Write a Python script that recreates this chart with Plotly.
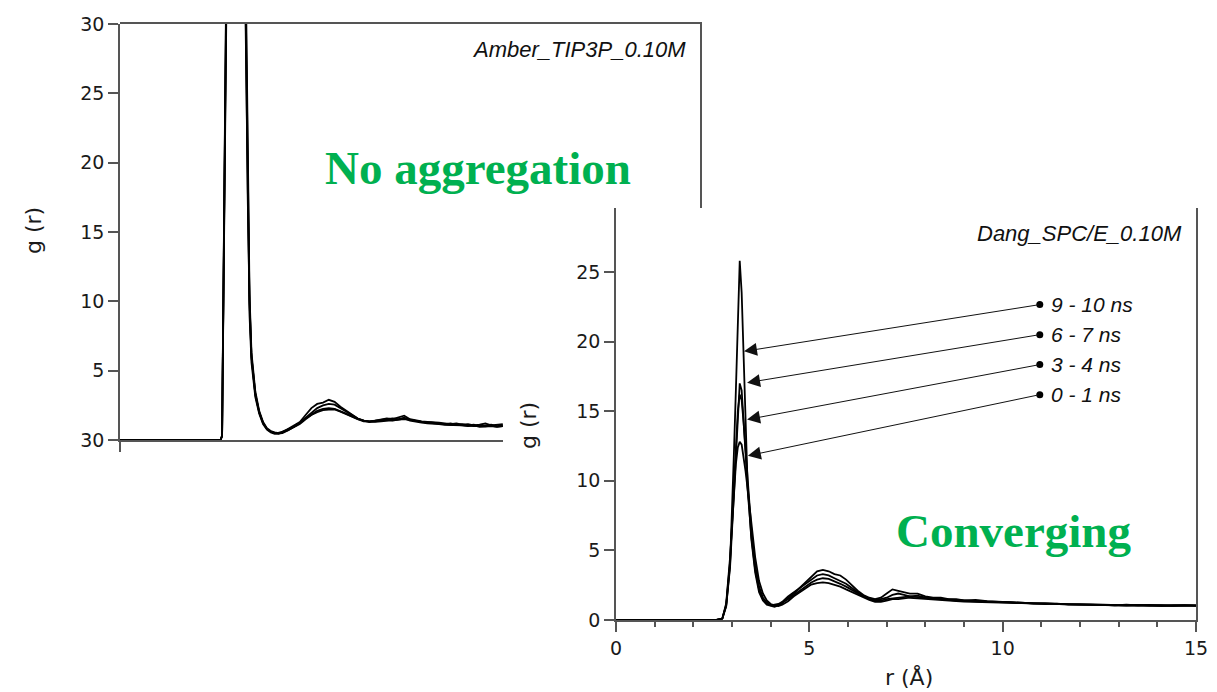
import plotly.graph_objects as go

W, H = 1217, 692

# ---------------- Left panel (Amber_TIP3P_0.10M) ----------------
R_LEFT = [0, 2.6, 2.64, 2.75, 2.9, 3.05, 3.2, 3.25, 3.3, 3.35, 3.4, 3.5, 3.6, 3.7, 3.8, 3.9,
          4.0, 4.1, 4.2, 4.35, 4.5, 4.65, 4.8, 4.95, 5.1, 5.25, 5.4, 5.55, 5.7, 5.85,
          6.0, 6.15, 6.3, 6.45, 6.6, 6.75, 6.9, 7.05, 7.2, 7.35, 7.5, 7.65, 7.8, 7.95,
          8.1, 8.25, 8.4, 8.55, 8.7, 8.85, 9.0, 9.15, 9.3, 9.45, 9.6, 9.75, 9.9]
G_LEFT_1 = [0, 0, 0.3, 33, 72, 76, 44, 31, 18, 10, 6, 3.3, 2.0, 1.2, 0.8, 0.6,
            0.5, 0.45, 0.55, 0.8, 1.0, 1.3, 1.8, 2.3, 2.6, 2.7, 2.9, 2.75, 2.4, 2.1,
            1.8, 1.55, 1.4, 1.35, 1.4, 1.5, 1.55, 1.5, 1.6, 1.75, 1.5, 1.4, 1.35, 1.3,
            1.3, 1.25, 1.2, 1.15, 1.2, 1.1, 1.15, 1.05, 1.1, 1.2, 1.05, 1.1, 1.15]
G_LEFT_2 = [0, 0, 0.3, 32, 68, 74, 46, 33, 19, 10.5, 6.3, 3.5, 2.1, 1.3, 0.85, 0.65,
            0.55, 0.5, 0.6, 0.75, 0.95, 1.25, 1.6, 2.0, 2.3, 2.5, 2.6, 2.55, 2.3, 2.0,
            1.75, 1.55, 1.4, 1.35, 1.4, 1.45, 1.5, 1.55, 1.5, 1.6, 1.45, 1.35, 1.3, 1.3,
            1.25, 1.2, 1.15, 1.2, 1.1, 1.15, 1.05, 1.1, 1.0, 1.05, 1.1, 1.0, 1.05]
G_LEFT_3 = [0, 0, 0.3, 34, 71, 73, 40, 29, 16, 9, 5.6, 3.1, 1.9, 1.15, 0.75, 0.55,
            0.45, 0.45, 0.5, 0.7, 0.95, 1.2, 1.55, 1.85, 2.1, 2.25, 2.3, 2.25, 2.1, 1.9,
            1.7, 1.5, 1.4, 1.3, 1.35, 1.4, 1.45, 1.4, 1.5, 1.55, 1.4, 1.3, 1.25, 1.2,
            1.2, 1.15, 1.1, 1.1, 1.05, 1.05, 1.0, 1.05, 0.95, 1.0, 1.0, 0.95, 1.0]
G_LEFT_4 = [0, 0, 0.3, 33, 69, 75, 43, 31, 17.5, 9.8, 6, 3.3, 2.0, 1.25, 0.8, 0.6,
            0.5, 0.5, 0.55, 0.7, 0.9, 1.15, 1.5, 1.8, 2.0, 2.15, 2.2, 2.2, 2.05, 1.85,
            1.65, 1.5, 1.35, 1.3, 1.3, 1.35, 1.4, 1.4, 1.45, 1.5, 1.45, 1.35, 1.3, 1.25,
            1.2, 1.2, 1.15, 1.1, 1.1, 1.05, 1.05, 1.0, 1.0, 0.98, 1.02, 0.97, 1.0]
LEFT_SERIES = [G_LEFT_1, G_LEFT_2, G_LEFT_3, G_LEFT_4]
LEFT_YTICK_VALS = [0, 5, 10, 15, 20, 25, 30]
LEFT_YTICK_TEXT = ["30", "5", "10", "15", "20", "25", "30"]

# ---------------- Right panel (Dang_SPC/E_0.10M) ----------------
R_RIGHT = [0, 2.6, 2.75, 2.85, 2.95, 3.0, 3.05, 3.1, 3.15, 3.2, 3.25, 3.3, 3.35, 3.4, 3.5,
           3.6, 3.7, 3.8, 3.9, 4.0, 4.1, 4.2, 4.3, 4.45, 4.6, 4.75, 4.9, 5.05, 5.2,
           5.35, 5.5, 5.65, 5.8, 5.95, 6.1, 6.25, 6.4, 6.55, 6.7, 6.85, 7.0, 7.15,
           7.3, 7.45, 7.6, 7.8, 8.0, 8.2, 8.4, 8.6, 8.8, 9.0, 9.3, 9.6, 9.9, 10.2,
           10.5, 10.8, 11.1, 11.4, 11.7, 12.0, 12.3, 12.6, 12.9, 13.2, 13.5, 13.8,
           14.1, 14.4, 14.7, 15.0]
G_9_10 = [0, 0, 0.1, 1.0, 4.0, 7.5, 12, 16.5, 21, 25.8, 23.5, 18.5, 13.5, 10, 5.8,
          3.4, 2.0, 1.4, 1.1, 1.0, 0.95, 1.05, 1.2, 1.6, 1.9, 2.3, 2.7, 3.1, 3.5,
          3.6, 3.5, 3.3, 3.2, 2.9, 2.5, 2.1, 1.8, 1.6, 1.5, 1.6, 1.9, 2.2,
          2.1, 2.0, 1.9, 1.9, 1.7, 1.6, 1.6, 1.5, 1.5, 1.4, 1.45, 1.35, 1.3, 1.3,
          1.25, 1.2, 1.2, 1.15, 1.15, 1.1, 1.12, 1.08, 1.05, 1.1, 1.05, 1.08,
          1.02, 1.06, 1.03, 1.05]
G_6_7 = [0, 0, 0.1, 1.0, 3.8, 6.5, 9.5, 12.5, 15.2, 17.0, 16.5, 14.5, 12, 9.5, 6,
         3.6, 2.2, 1.5, 1.2, 1.05, 1.1, 1.15, 1.3, 1.7, 2.0, 2.3, 2.6, 2.9, 3.2,
         3.3, 3.2, 3.0, 2.8, 2.6, 2.3, 2.0, 1.7, 1.5, 1.4, 1.5, 1.6, 1.8,
         1.9, 1.8, 1.7, 1.75, 1.6, 1.55, 1.5, 1.5, 1.45, 1.4, 1.35, 1.35, 1.3, 1.28,
         1.22, 1.2, 1.15, 1.18, 1.12, 1.12, 1.08, 1.1, 1.06, 1.05, 1.08, 1.04,
         1.06, 1.02, 1.05, 1.02]
G_3_4 = [0, 0, 0.1, 1.1, 4.2, 7.0, 10, 12.8, 15.0, 16.2, 15.8, 14.2, 12.3, 10.2, 6.5,
         3.9, 2.4, 1.6, 1.25, 1.1, 1.0, 1.1, 1.25, 1.5, 1.8, 2.1, 2.4, 2.7, 2.9,
         3.0, 2.95, 2.8, 2.6, 2.4, 2.15, 1.9, 1.7, 1.5, 1.45, 1.4, 1.5, 1.55,
         1.6, 1.65, 1.7, 1.65, 1.6, 1.5, 1.45, 1.4, 1.4, 1.38, 1.32, 1.3, 1.28, 1.25,
         1.2, 1.18, 1.2, 1.15, 1.1, 1.12, 1.1, 1.06, 1.08, 1.04, 1.06, 1.05,
         1.03, 1.05, 1.02, 1.04]
G_0_1 = [0, 0, 0.1, 1.2, 4.5, 7.0, 9.3, 11.2, 12.4, 12.8, 12.6, 11.8, 10.7, 9.5, 7.0,
         4.5, 2.8, 1.9, 1.4, 1.15, 1.05, 1.0, 1.1, 1.35, 1.7, 2.0, 2.3, 2.55, 2.65,
         2.7, 2.65, 2.55, 2.4, 2.2, 2.0, 1.8, 1.6, 1.45, 1.3, 1.3, 1.4, 1.5,
         1.5, 1.55, 1.6, 1.55, 1.5, 1.45, 1.4, 1.38, 1.35, 1.32, 1.3, 1.28, 1.25, 1.22,
         1.2, 1.16, 1.15, 1.12, 1.12, 1.1, 1.08, 1.08, 1.05, 1.06, 1.04, 1.03,
         1.05, 1.02, 1.04, 1.03]
RIGHT_SERIES = [G_9_10, G_6_7, G_3_4, G_0_1]
RIGHT_LABELS = ["9 - 10 ns", "6 - 7 ns", "3 - 4 ns", "0 - 1 ns"]
LABEL_DOT_R = [10.96, 10.96, 10.96, 10.96]
LABEL_DOT_G = [22.66, 20.5, 18.35, 16.19]
ARROW_TIP_R = [3.31, 3.39, 3.39, 3.41]
ARROW_TIP_G = [19.3, 17.05, 14.4, 11.8]


def px(x):
    return x / W


def py(y):
    return 1 - y / H


SANS = "DejaVu Sans, Verdana, sans-serif"
ITAL = "Liberation Sans, Arial, sans-serif"
TICK_FONT = dict(family=SANS, size=19, color="#1a1a1a")
AX_COL = "#555555"
GREEN = "#00B050"

# pixel frame of the two panels
L_X0, L_X1, L_XCUT = 120, 700, 503      # left panel: full width, visible bottom-axis end
L_Y0, L_Y1 = 440, 24
L_YCUT = 208                             # where the right panel hides the left frame
R_X0, R_X1 = 616, 1196
R_Y0, R_Y1 = 620, 208
X_MAX = 15.0
left_visible_max = X_MAX * (L_XCUT - L_X0) / (L_X1 - L_X0)

fig = go.Figure()

for g in LEFT_SERIES:
    fig.add_trace(go.Scatter(x=R_LEFT, y=g, mode="lines", xaxis="x", yaxis="y",
                             line=dict(color="black", width=1.8), showlegend=False,
                             hoverinfo="skip"))
# empty trace so the frame axes of the left panel form their own subplot
fig.add_trace(go.Scatter(x=[None], y=[None], xaxis="x2", yaxis="y2", showlegend=False,
                         hoverinfo="skip"))
for g in RIGHT_SERIES:
    fig.add_trace(go.Scatter(x=R_RIGHT, y=g, mode="lines", xaxis="x3", yaxis="y3",
                             line=dict(color="black", width=1.8), showlegend=False,
                             hoverinfo="skip"))
fig.add_trace(go.Scatter(x=LABEL_DOT_R, y=LABEL_DOT_G, mode="markers", xaxis="x3", yaxis="y3",
                         marker=dict(color="black", size=7), showlegend=False, hoverinfo="skip"))

annotations = []
for i in range(len(RIGHT_LABELS)):
    annotations.append(dict(
        xref="x3", yref="y3", axref="x3", ayref="y3",
        x=ARROW_TIP_R[i], y=ARROW_TIP_G[i], ax=LABEL_DOT_R[i], ay=LABEL_DOT_G[i],
        text="", showarrow=True, arrowhead=2, arrowsize=2.6, arrowwidth=1,
        arrowcolor="#111111", standoff=0, startstandoff=0))
    annotations.append(dict(
        xref="x3", yref="y3", x=LABEL_DOT_R[i], y=LABEL_DOT_G[i], xshift=9,
        text="<i>" + RIGHT_LABELS[i] + "</i>", showarrow=False,
        xanchor="left", yanchor="middle",
        font=dict(family=ITAL, size=21, color="#111111")))

annotations += [
    dict(xref="paper", yref="paper", x=px(688), y=py(50), text="<i>Amber_TIP3P_0.10M</i>",
         showarrow=False, xanchor="right", yanchor="middle",
         font=dict(family=ITAL, size=22, color="#111111")),
    dict(xref="paper", yref="paper", x=px(1184), y=py(233), text="<i>Dang_SPC/E_0.10M</i>",
         showarrow=False, xanchor="right", yanchor="middle",
         font=dict(family=ITAL, size=22, color="#111111")),
    dict(xref="paper", yref="paper", x=px(478), y=py(168), text="<b>No aggregation</b>",
         showarrow=False, xanchor="center", yanchor="middle",
         font=dict(family="Liberation Serif, Times New Roman, serif", size=47, color=GREEN)),
    dict(xref="paper", yref="paper", x=px(1014), y=py(531), text="<b>Converging</b>",
         showarrow=False, xanchor="center", yanchor="middle",
         font=dict(family="Liberation Serif, Times New Roman, serif", size=47, color=GREEN)),
    dict(xref="paper", yref="paper", x=px(33), y=py(231), text="g (r)", textangle=-90,
         showarrow=False, xanchor="center", yanchor="middle",
         font=dict(family=SANS, size=22, color="#1a1a1a")),
    dict(xref="paper", yref="paper", x=px(528), y=py(426), text="g (r)", textangle=-90,
         showarrow=False, xanchor="center", yanchor="middle",
         font=dict(family=SANS, size=22, color="#1a1a1a")),
    dict(xref="paper", yref="paper", x=px(909), y=py(677), text="r (Å)",
         showarrow=False, xanchor="center", yanchor="middle",
         font=dict(family=SANS, size=22, color="#1a1a1a")),
]

base = dict(showgrid=False, zeroline=False, showline=True, linecolor=AX_COL,
            linewidth=1.5, tickcolor=AX_COL, tickwidth=1.5, tickfont=TICK_FONT,
            automargin=False, fixedrange=True)

fig.update_layout(
    width=W, height=H, margin=dict(l=0, r=0, t=0, b=0, pad=0, autoexpand=False),
    autosize=False,
    paper_bgcolor="white", plot_bgcolor="rgba(0,0,0,0)", showlegend=False,
    # left panel: data axes (bottom axis only visible up to where the right panel starts)
    xaxis=dict(domain=[px(L_X0), px(L_XCUT)], range=[0, left_visible_max], anchor="y",
               mirror=False, ticks="outside", tickvals=[0], ticklen=10,
               showticklabels=False, **base),
    yaxis=dict(domain=[py(L_Y0), py(L_Y1)], range=[0, 30], anchor="x", mirror=False,
               ticks="outside", tickvals=LEFT_YTICK_VALS, ticktext=LEFT_YTICK_TEXT,
               ticklen=10, **base),
    # left panel: top and right frame lines (visible part above the right panel)
    xaxis2=dict(domain=[px(L_X0), px(L_X1)], range=[0, X_MAX], anchor="y2", side="top",
                ticks="", showticklabels=False, **base),
    yaxis2=dict(domain=[py(L_YCUT), py(L_Y1)], range=[0, 1], anchor="x2", side="right",
                ticks="", showticklabels=False, **base),
    # right panel
    xaxis3=dict(domain=[px(R_X0), px(R_X1)], range=[0, X_MAX], anchor="y3", mirror=False,
                ticks="outside", tickvals=[0, 5, 10, 15], ticklen=10,
                minor=dict(dtick=1, ticklen=5, ticks="outside", tickcolor=AX_COL,
                           tickwidth=1.5, showgrid=False),
                **base),
    yaxis3=dict(domain=[py(R_Y0), py(R_Y1)], range=[0, 29.6], anchor="x3", mirror=True,
                ticks="outside", tickvals=[0, 5, 10, 15, 20, 25], ticklen=10, **base),
    annotations=annotations,
)

fig.write_html("out.html", config={"displayModeBar": False})
